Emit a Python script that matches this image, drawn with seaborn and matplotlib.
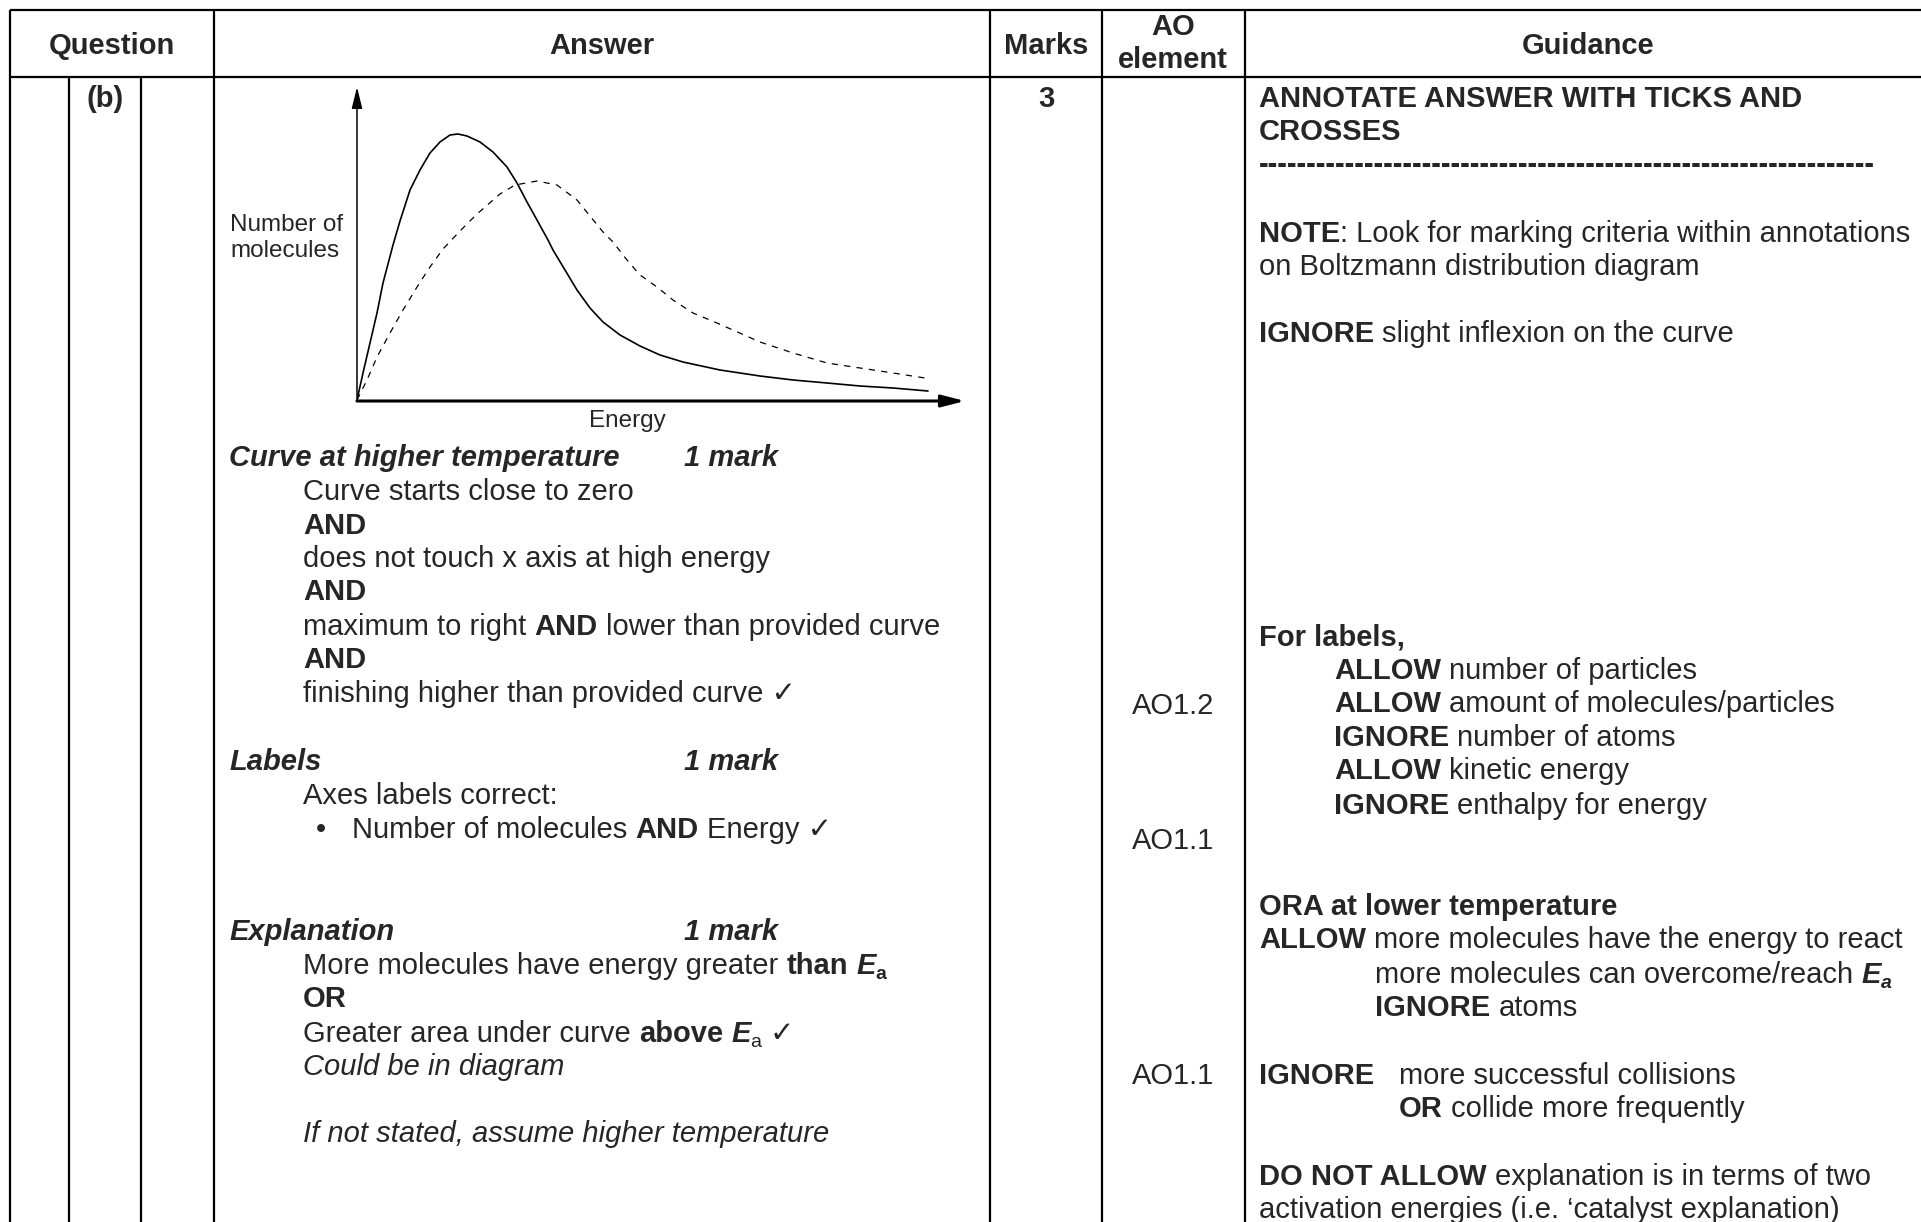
import matplotlib
matplotlib.use("Agg")
import matplotlib.pyplot as plt
import seaborn as sns
import pandas as pd

# Boltzmann curves (energy / number of molecules, arbitrary units)
energy_low = [0, 6, 13, 20, 26, 36, 43, 53, 63, 73, 83, 93, 101, 110, 123, 136, 150, 160,
              170, 180, 191, 196, 208, 220, 233, 246, 263, 283, 303, 326, 363, 403, 436,
              470, 503, 536, 571]
number_low = [1, 28, 58, 88, 118, 156, 180, 211, 231, 248, 259, 266, 267, 265, 259, 249, 234,
              218, 199, 181, 161, 151, 131, 111, 93, 79, 66, 55, 46, 39, 31, 25, 21, 18, 15,
              13, 10]
energy_high = [0, 10, 20, 33, 46, 60, 73, 86, 103, 120, 143, 158, 180, 200, 220, 246, 256,
               270, 283, 300, 316, 336, 360, 403, 436, 470, 503, 536, 568]
number_high = [1, 21, 44, 68, 91, 114, 134, 152, 170, 187, 207, 216, 220, 216, 201, 169, 159,
               141, 126, 114, 101, 88, 78, 59, 48, 38, 33, 28, 23]

headers = ["Question", "Answer", "Marks", "Guidance"]
ao_labels = ["AO1.2", "AO1.1", "AO1.1"]

sns.set_style("white")
plt.rcParams['font.family'] = ['Liberation Sans', 'DejaVu Sans']

W, H = 1921, 1222
fig = plt.figure(figsize=(W / 100, H / 100), dpi=100)
bg = fig.add_axes([0, 0, 1, 1])
bg.set_xlim(0, W)
bg.set_ylim(H, 0)
bg.axis('off')
renderer = fig.canvas.get_renderer()

FS = 21
STY = {
    'R': dict(),
    'B': dict(fontweight='bold'),
    'I': dict(fontstyle='italic'),
    'BI': dict(fontweight='bold', fontstyle='italic'),
}


def width_of(t):
    return t.get_window_extent(renderer).width


def space_w(style):
    a = bg.text(0, 0, "x x", fontsize=FS, **STY[style])
    b = bg.text(0, 0, "xx", fontsize=FS, **STY[style])
    w = width_of(a) - width_of(b)
    a.remove()
    b.remove()
    return w


SP = {k: space_w(k) for k in STY}


def line(x, y, parts):
    # parts: (text, style) or (text, style, 'sub')
    for p in parts:
        txt, st = p[0], p[1]
        sub = len(p) > 2
        lead = len(txt) - len(txt.lstrip(' '))
        trail = len(txt) - len(txt.rstrip(' '))
        x += lead * SP[st]
        core = txt.strip(' ')
        if core:
            t = bg.text(x, y + (5 if sub else 0), core, fontsize=14 if sub else FS,
                        va='baseline', ha='left', **STY[st])
            x += width_of(t)
        x += trail * SP[st]


# table rules
lw = 1.6
bg.hlines([10, 77], 10, W, color='black', lw=lw)
bg.vlines([10, 214, 990, 1102, 1245], 10, H, color='black', lw=lw)
bg.vlines([69, 141], 77, H, color='black', lw=lw)

# header row
for label, xc in zip(headers, [112, 602, 1046, 1588]):
    bg.text(xc, 54, label, fontsize=FS, fontweight='bold', ha='center', va='baseline')
bg.text(1173, 35, "AO", fontsize=FS, fontweight='bold', ha='center', va='baseline')
bg.text(1173, 68, "element", fontsize=FS, fontweight='bold', ha='center', va='baseline')

bg.text(105, 107, "(b)", fontsize=FS, fontweight='bold', ha='center', va='baseline')
bg.text(1046, 107, "3", fontsize=FS, fontweight='bold', ha='center', va='baseline')

for label, yb in zip(ao_labels, [714, 849, 1084]):
    bg.text(1173, yb, label, fontsize=FS, ha='center', va='baseline')

# answer column text
X0, X1, XM = 229, 303, 684
line(X0, 466, [("Curve at higher temperature", 'BI')])
line(XM, 466, [("1 mark", 'BI')])
line(X1, 500, [("Curve starts close to zero", 'R')])
line(X1, 534, [("AND", 'B')])
line(X1, 567, [("does not touch x axis at high energy", 'R')])
line(X1, 600, [("AND", 'B')])
line(X1, 635, [("maximum to right ", 'R'), ("AND", 'B'), (" lower than provided curve", 'R')])
line(X1, 668, [("AND", 'B')])
line(X1, 702, [("finishing higher than provided curve \u2713", 'R')])
line(X0, 770, [("Labels", 'BI')])
line(XM, 770, [("1 mark", 'BI')])
line(X1, 804, [("Axes labels correct:", 'R')])
line(316, 838, [("\u2022", 'R')])
line(352, 838, [("Number of molecules ", 'R'), ("AND", 'B'), (" Energy \u2713", 'R')])
line(X0, 940, [("Explanation", 'BI')])
line(XM, 940, [("1 mark", 'BI')])
line(X1, 974, [("More molecules have energy greater ", 'R'), ("than ", 'B'), ("E", 'BI'),
               ("a", 'B', 'sub')])
line(X1, 1007, [("OR", 'B')])
line(X1, 1042, [("Greater area under curve ", 'R'), ("above ", 'B'), ("E", 'BI'),
                ("a", 'R', 'sub'), (" \u2713", 'R')])
line(X1, 1075, [("Could be in diagram", 'I')])
line(X1, 1142, [("If not stated, assume higher temperature", 'I')])

# guidance column text
G0, G1, G2, G3 = 1259, 1334, 1375, 1399
line(G0, 107, [("ANNOTATE ANSWER WITH TICKS AND", 'B')])
line(G0, 140, [("CROSSES", 'B')])
line(G0, 173, [("-" * 64, 'B')])
line(G0, 242, [("NOTE", 'B'), (": Look for marking criteria within annotations", 'R')])
line(G0, 275, [("on Boltzmann distribution diagram", 'R')])
line(G0, 342, [("IGNORE", 'B'), (" slight inflexion on the curve", 'R')])
line(G0, 646, [("For labels,", 'B')])
line(G1, 679, [("ALLOW", 'B'), (" number of particles", 'R')])
line(G1, 712, [("ALLOW", 'B'), (" amount of molecules/particles", 'R')])
line(G1, 746, [("IGNORE", 'B'), (" number of atoms", 'R')])
line(G1, 779, [("ALLOW", 'B'), (" kinetic energy", 'R')])
line(G1, 814, [("IGNORE", 'B'), (" enthalpy for energy", 'R')])
line(G0, 915, [("ORA at lower temperature", 'B')])
line(G0, 948, [("ALLOW", 'B'), (" more molecules have the energy to react", 'R')])
line(G2, 983, [("more molecules can overcome/reach ", 'R'), ("E", 'BI'), ("a", 'BI', 'sub')])
line(G2, 1016, [("IGNORE", 'B'), (" atoms", 'R')])
line(G0, 1084, [("IGNORE", 'B')])
line(G3, 1084, [("more successful collisions", 'R')])
line(G3, 1117, [("OR", 'B'), (" collide more frequently", 'R')])
line(G0, 1185, [("DO NOT ALLOW", 'B'), (" explanation is in terms of two", 'R')])
line(G0, 1218, [("activation energies (i.e. \u2018catalyst explanation)", 'R')])

# Boltzmann distribution sketch
left, right, bottom, top = 357, 965, 401, 87
ax = fig.add_axes([left / W, 1 - bottom / H, (right - left) / W, (bottom - top) / H])
ax.patch.set_alpha(0)
low = pd.DataFrame({'energy': energy_low, 'number': number_low})
high = pd.DataFrame({'energy': energy_high, 'number': number_high})
sns.lineplot(data=low, x='energy', y='number', color='black', lw=1.2, ax=ax)
sns.lineplot(data=high, x='energy', y='number', color='black', lw=0.9,
             dashes=False, ax=ax, linestyle=(0, (5, 5)))
ax.set_xlim(0, right - left)
ax.set_ylim(0, bottom - top)
ax.set_axis_off()

ax.annotate('', xy=(1, 0), xytext=(0, 0), xycoords='axes fraction',
            arrowprops=dict(arrowstyle='-|>,head_length=14,head_width=3.6',
                            color='black', lw=2.2, mutation_scale=1, shrinkA=0, shrinkB=0))
ax.annotate('', xy=(0, 1), xytext=(0, 0), xycoords='axes fraction',
            arrowprops=dict(arrowstyle='-|>,head_length=13,head_width=3.2',
                            color='black', lw=1.1, mutation_scale=1, shrinkA=0, shrinkB=0))

bg.text(230, 231, "Number of", fontsize=17.5, ha='left', va='baseline')
bg.text(230, 257, "molecules", fontsize=17.5, ha='left', va='baseline')
bg.text(627, 427, "Energy", fontsize=17.5, ha='center', va='baseline')

fig.savefig("out.png", dpi=100)
